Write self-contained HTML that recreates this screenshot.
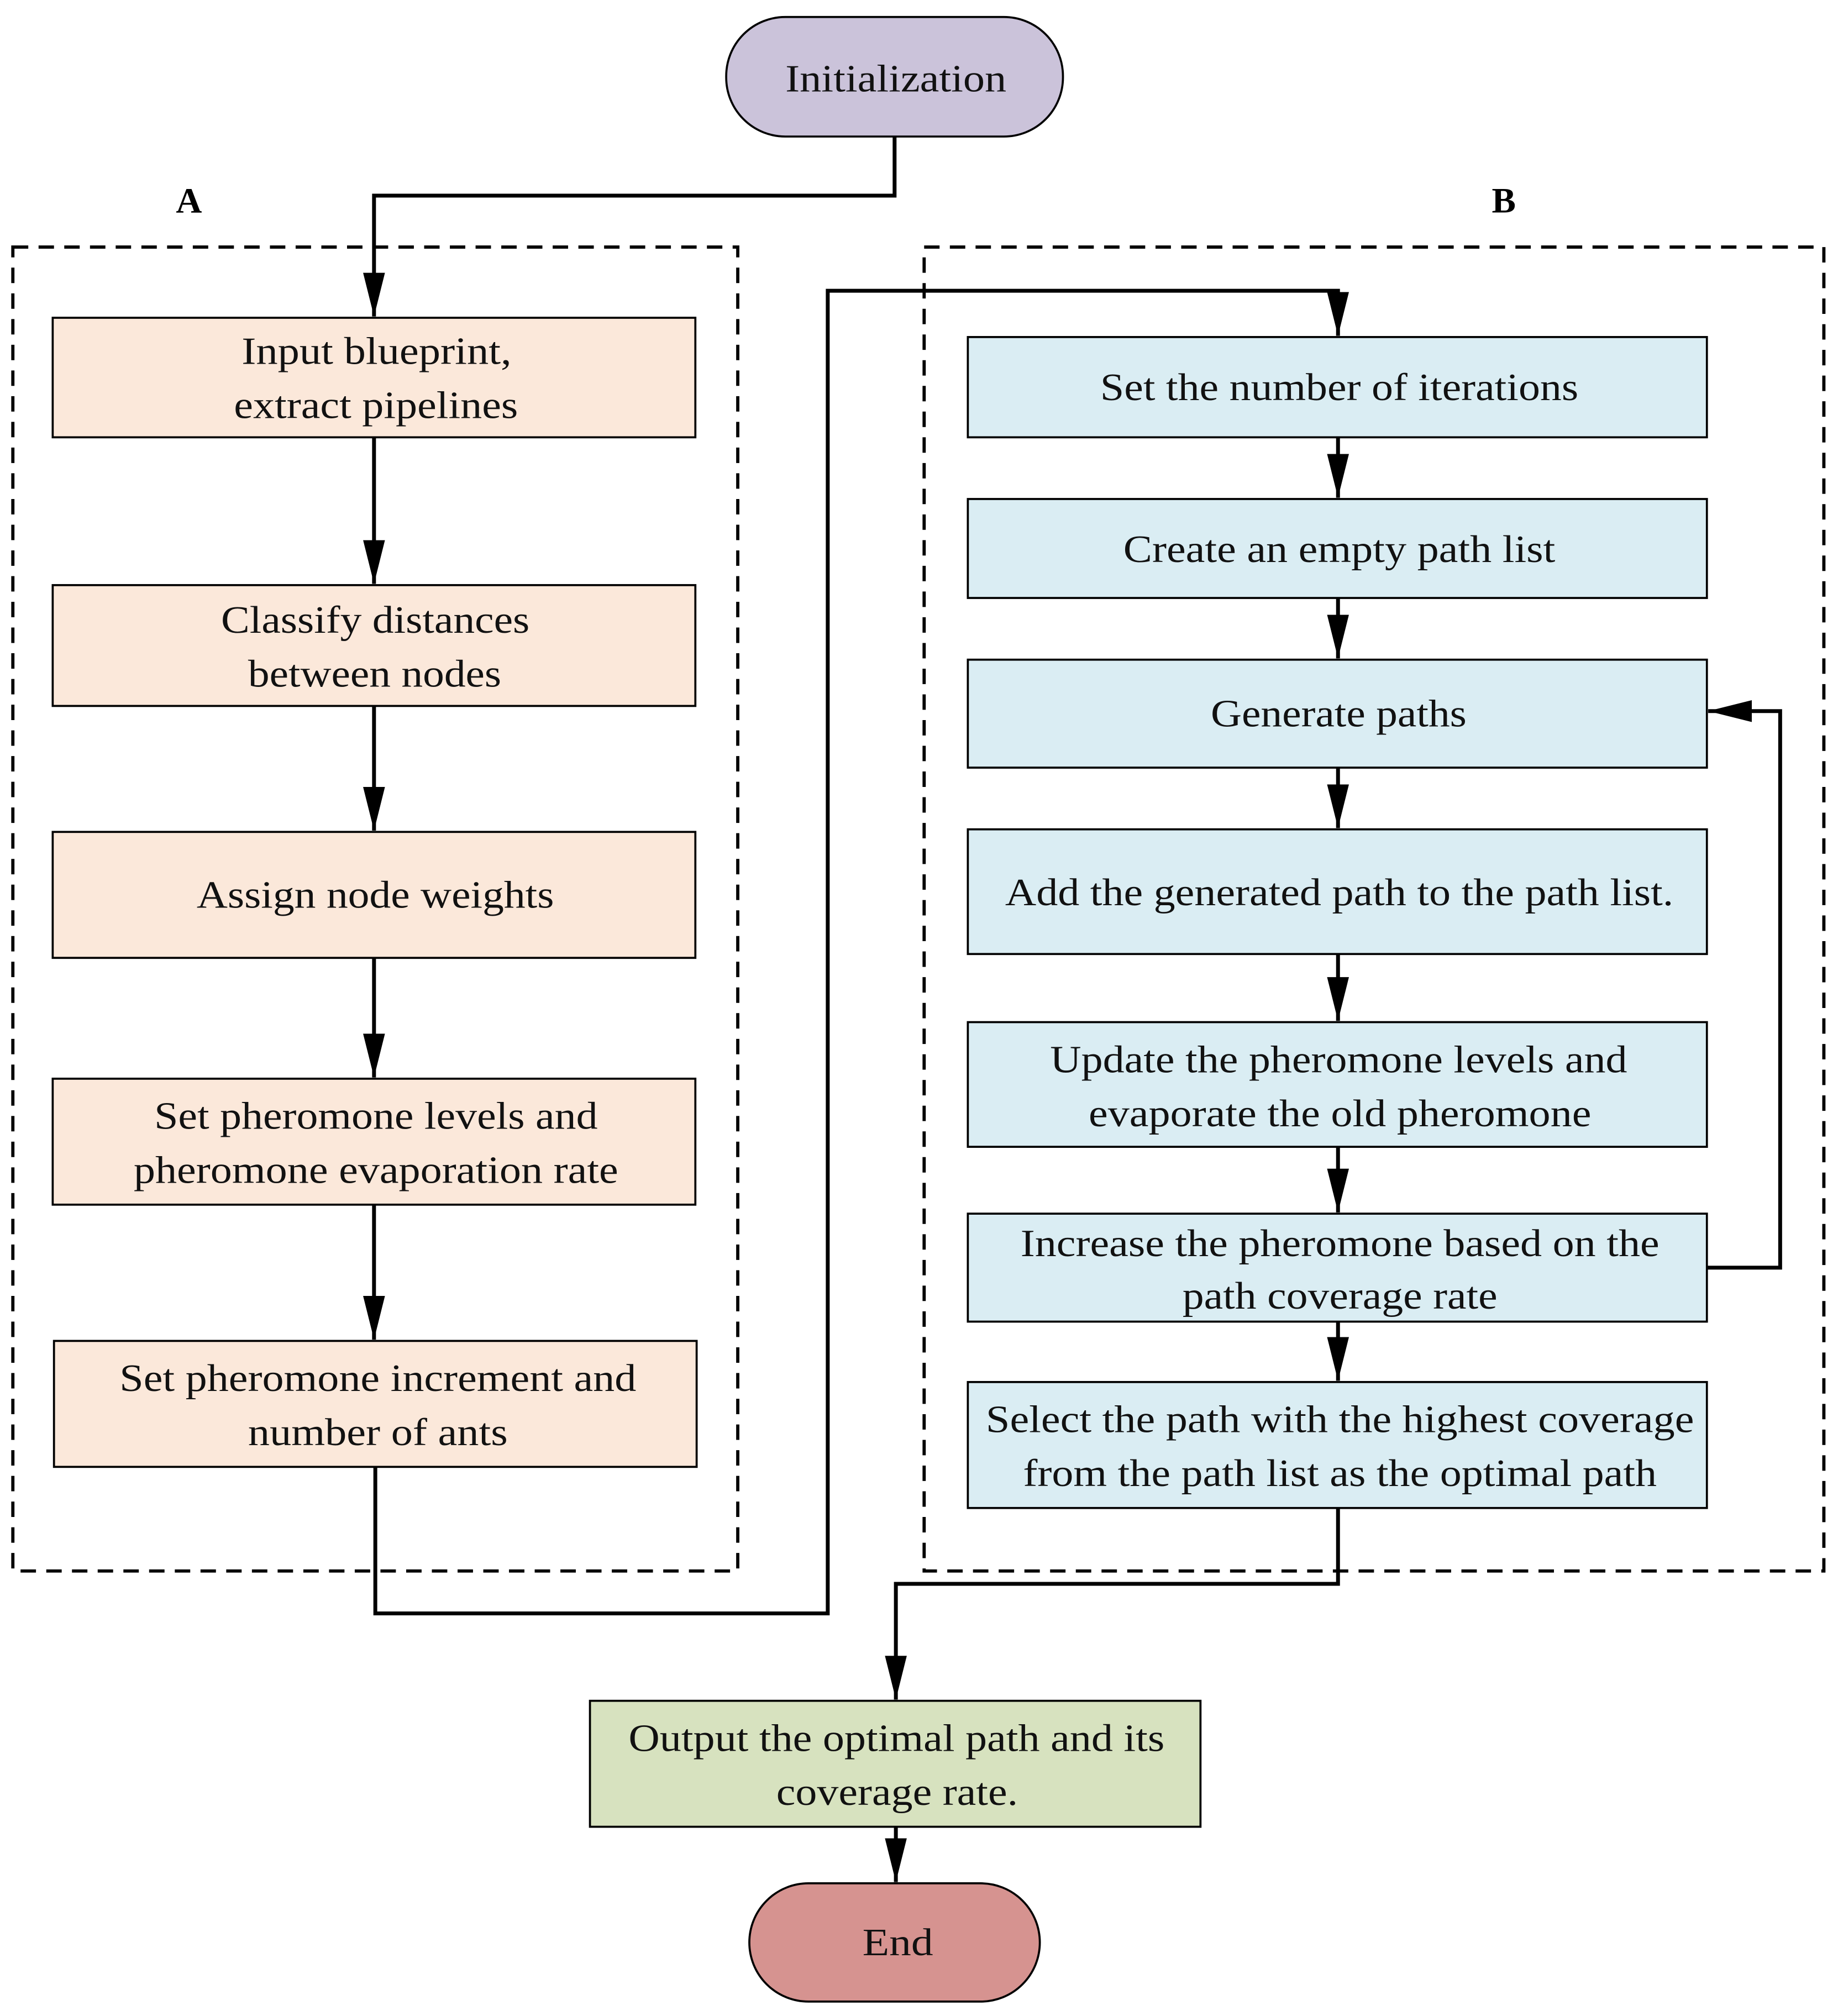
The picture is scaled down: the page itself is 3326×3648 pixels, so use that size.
<!DOCTYPE html>
<html><head><meta charset="utf-8"><style>html,body{margin:0;padding:0;background:#fff}svg{display:block}</style></head>
<body>
<svg width="3326" height="3648" viewBox="0 0 1430 1568" xmlns="http://www.w3.org/2000/svg" font-family="'Liberation Serif', serif" font-size="30">
<defs>
<marker id="ah" markerUnits="userSpaceOnUse" markerWidth="36" markerHeight="18" refX="34" refY="9" orient="auto" viewBox="0 0 36 18">
<path d="M0,0.5 L34,9 L0,17.5 Z" fill="#000"/>
</marker>
</defs>
<rect width="1430" height="1568" fill="#fff"/>
<rect x="10" y="192" width="564" height="1030" fill="none" stroke="#000" stroke-width="2.5" stroke-dasharray="12,8"/>
<rect x="719" y="192" width="700" height="1030" fill="none" stroke="#000" stroke-width="2.5" stroke-dasharray="12,8"/>
<text x="147" y="165" font-weight="bold" font-size="28" text-anchor="middle">A</text>
<text x="1170" y="165" font-weight="bold" font-size="28" text-anchor="middle">B</text>

<g fill="none" stroke="#000" stroke-width="3">
<path d="M696,106 V152 H291 V246" marker-end="url(#ah)"/>
<path d="M291,340 V454" marker-end="url(#ah)"/>
<path d="M291,549 V646" marker-end="url(#ah)"/>
<path d="M291,745 V838" marker-end="url(#ah)"/>
<path d="M291,937 V1042" marker-end="url(#ah)"/>
<path d="M292,1141 V1255 H644 V226 H1041 V261" marker-end="url(#ah)"/>
<path d="M1041,340 V387" marker-end="url(#ah)"/>
<path d="M1041,465 V512" marker-end="url(#ah)"/>
<path d="M1041,597 V644" marker-end="url(#ah)"/>
<path d="M1041,742 V794" marker-end="url(#ah)"/>
<path d="M1041,892 V943" marker-end="url(#ah)"/>
<path d="M1041,1028 V1074" marker-end="url(#ah)"/>
<path d="M1328,986 H1385 V553 H1329" marker-end="url(#ah)"/>
<path d="M1041,1173 V1232 H697 V1322" marker-end="url(#ah)"/>
<path d="M697,1421 V1464" marker-end="url(#ah)"/>
</g>

<g stroke="#000" stroke-width="1.6">
<rect x="565" y="13" width="262" height="93" rx="46" fill="#cbc3da"/>
<rect x="41" y="247" width="500" height="93" fill="#fbe8da"/>
<rect x="41" y="455" width="500" height="94" fill="#fbe8da"/>
<rect x="41" y="647" width="500" height="98" fill="#fbe8da"/>
<rect x="41" y="839" width="500" height="98" fill="#fbe8da"/>
<rect x="42" y="1043" width="500" height="98" fill="#fbe8da"/>
<rect x="753" y="262" width="575" height="78" fill="#daedf3"/>
<rect x="753" y="388" width="575" height="77" fill="#daedf3"/>
<rect x="753" y="513" width="575" height="84" fill="#daedf3"/>
<rect x="753" y="645" width="575" height="97" fill="#daedf3"/>
<rect x="753" y="795" width="575" height="97" fill="#daedf3"/>
<rect x="753" y="944" width="575" height="84" fill="#daedf3"/>
<rect x="753" y="1075" width="575" height="98" fill="#daedf3"/>
<rect x="459" y="1323" width="475" height="98" fill="#d7e2bf"/>
<rect x="583" y="1465" width="226" height="92" rx="46" fill="#d69390"/>
</g>

<g fill="#111">
<text x="611" y="71" textLength="172" lengthAdjust="spacingAndGlyphs">Initialization</text>
<text x="188" y="283" textLength="210" lengthAdjust="spacingAndGlyphs">Input blueprint,</text>
<text x="182" y="325" textLength="221" lengthAdjust="spacingAndGlyphs">extract pipelines</text>
<text x="172" y="492" textLength="240" lengthAdjust="spacingAndGlyphs">Classify distances</text>
<text x="193" y="534" textLength="197" lengthAdjust="spacingAndGlyphs">between nodes</text>
<text x="153" y="706" textLength="278" lengthAdjust="spacingAndGlyphs">Assign node weights</text>
<text x="120" y="878" textLength="345" lengthAdjust="spacingAndGlyphs">Set pheromone levels and</text>
<text x="104" y="920" textLength="377" lengthAdjust="spacingAndGlyphs">pheromone evaporation rate</text>
<text x="93" y="1082" textLength="402" lengthAdjust="spacingAndGlyphs">Set pheromone increment and</text>
<text x="193" y="1124" textLength="202" lengthAdjust="spacingAndGlyphs">number of ants</text>
<text x="856" y="311" textLength="372" lengthAdjust="spacingAndGlyphs">Set the number of iterations</text>
<text x="874" y="437" textLength="336" lengthAdjust="spacingAndGlyphs">Create an empty path list</text>
<text x="942" y="565" textLength="199" lengthAdjust="spacingAndGlyphs">Generate paths</text>
<text x="782" y="704" textLength="520" lengthAdjust="spacingAndGlyphs">Add the generated path to the path list.</text>
<text x="817" y="834" textLength="449" lengthAdjust="spacingAndGlyphs">Update the pheromone levels and</text>
<text x="847" y="876" textLength="391" lengthAdjust="spacingAndGlyphs">evaporate the old pheromone</text>
<text x="794" y="977" textLength="497" lengthAdjust="spacingAndGlyphs">Increase the pheromone based on the</text>
<text x="920" y="1018" textLength="245" lengthAdjust="spacingAndGlyphs">path coverage rate</text>
<text x="767" y="1114" textLength="551" lengthAdjust="spacingAndGlyphs">Select the path with the highest coverage</text>
<text x="796" y="1156" textLength="493" lengthAdjust="spacingAndGlyphs">from the path list as the optimal path</text>
<text x="489" y="1362" textLength="417" lengthAdjust="spacingAndGlyphs">Output the optimal path and its</text>
<text x="604" y="1404" textLength="188" lengthAdjust="spacingAndGlyphs">coverage rate.</text>
<text x="671" y="1521" textLength="55" lengthAdjust="spacingAndGlyphs">End</text>
</g>
</svg>
</body></html>
